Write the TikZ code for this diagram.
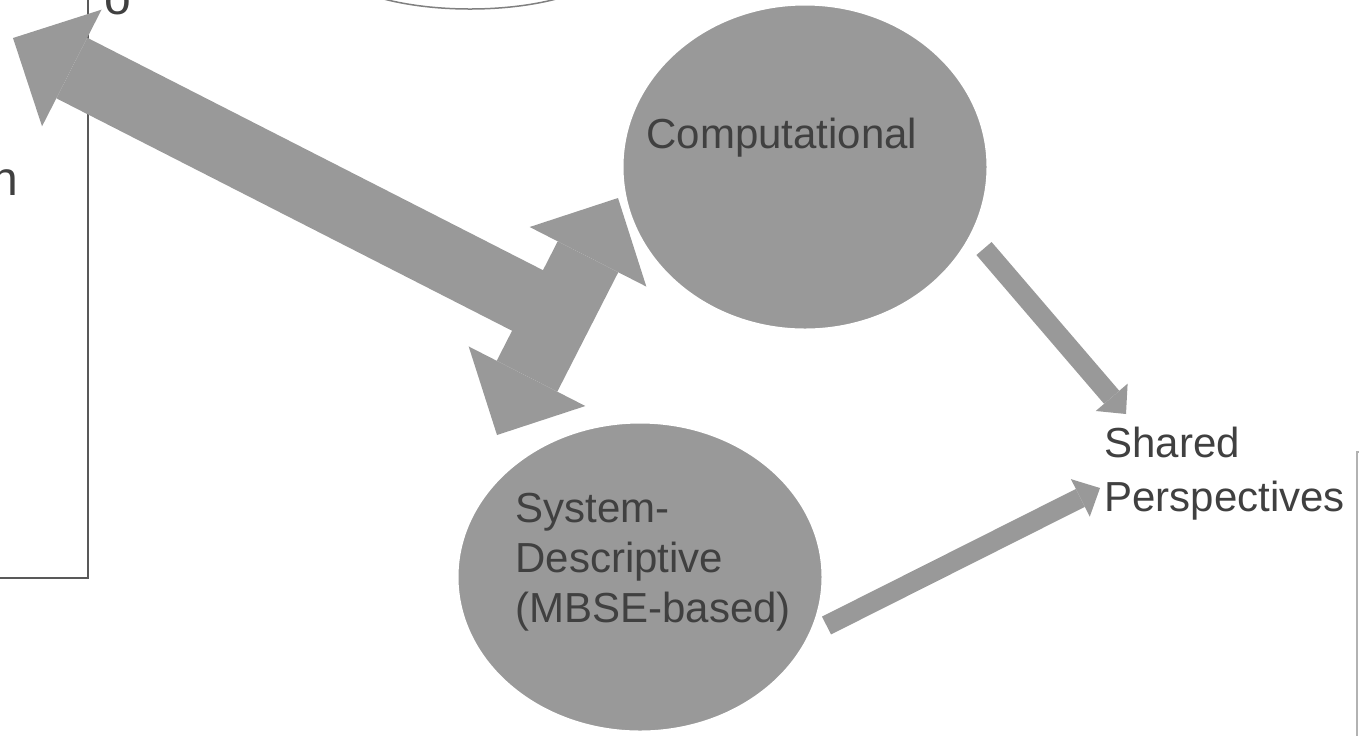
\documentclass[tikz,border=0pt]{standalone}
\usepackage{fontspec}
\setmainfont{Liberation Sans}
\usetikzlibrary{arrows.meta,shapes.geometric}
\definecolor{blobgray}{HTML}{999999}
\definecolor{inkgray}{HTML}{404040}

\begin{document}
\begin{tikzpicture}[x=0.5pt,y=-0.5pt,
    fathead/.tip={Triangle[length=33pt,width=65.5pt,line width=0pt]},
    thinhead/.tip={Triangle[length=11pt,width=21pt,line width=0pt]},
    blob/.style={ellipse,fill=blobgray,draw=white,line width=1.5pt,inner sep=0pt},
    txt/.style={text=inkgray,inner sep=0pt,align=left,font=\fontsize{21}{25}\selectfont},
    fat/.style={draw=blobgray,line width=34pt},
    thin/.style={draw=blobgray,line width=10pt,-thinhead}]
  \useasboundingbox (0,0) rectangle (1359,736);
  % pieces of the neighbouring shapes
  \draw[color=black!65,line width=1pt] (88,0) |- (0,578);
  \draw[color=black!30,line width=1pt] (1359,452) -| (1357,736);
  \node[ellipse,draw=black!50,line width=0.75pt,minimum width=150pt,minimum height=55pt] (topblob) at (470,-46) {};
  \node[txt,font=\fontsize{24}{28}\selectfont,anchor=base west] (frag1) at (104,14) {o};
  \node[txt,font=\fontsize{24}{28}\selectfont,anchor=base east] (frag2) at (19,195) {n};
  % arrows
  \coordinate (sdTip) at (497,435);
  \coordinate (cpTip) at (618,198);
  \coordinate (mid) at (558,316);
  \coordinate (farTip) at (13,38);
  \draw[fat,-fathead] (mid) -- (farTip);
  \draw[fat,fathead-fathead] (sdTip) -- (cpTip);
  \coordinate (cpOut) at (984,248.5);
  \coordinate (shIn1) at (1126,414);
  \coordinate (sdOut) at (826.5,625.5);
  \coordinate (shIn2) at (1100,488);
  \draw[thin] (cpOut) -- (shIn1);
  \draw[thin] (sdOut) -- (shIn2);
  % the two views
  \node[blob,minimum width=183pt,minimum height=163pt] (comp) at (805,167) {};
  \node[blob,minimum width=183pt,minimum height=155pt] (desc) at (640,577) {};
  \node[txt,anchor=base west] (compTxt) at (646,148) {Computational};
  \node[txt,anchor=base west] (descTxt) at (515,622) {System-\\Descriptive\\(MBSE-based)};
  \node[txt,font=\fontsize{21}{27}\selectfont,anchor=base west] (shared) at (1104,511) {Shared\\Perspectives};
\end{tikzpicture}
\end{document}
